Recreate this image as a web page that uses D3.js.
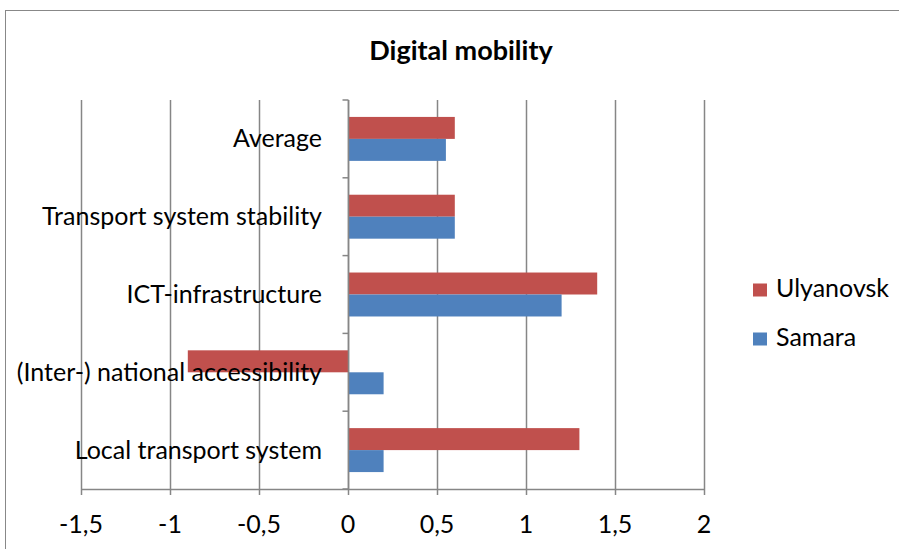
<!DOCTYPE html>
<html><head><meta charset="utf-8">
<script src="https://cdn.jsdelivr.net/npm/d3@7"></script>
<style>body{margin:0;background:#fff}svg{display:block}text{font-family:Lato,"Open Sans",sans-serif}</style>
</head><body>
<script>
const categories = ["Average","Transport system stability","ICT-infrastructure","(Inter-) national accessibility","Local transport system"];
const seriesNames = ["Ulyanovsk","Samara"];
const ulyanovsk = [0.6, 0.6, 1.4, -0.9, 1.3];
const samara = [0.55, 0.6, 1.2, 0.2, 0.2];
const xTicks = [-1.5,-1,-0.5,0,0.5,1,1.5,2];
const colors = ["#C0504D","#4F81BD"];
const title = "Digital mobility";

const W=899,H=549;
const svg=d3.select("body").append("svg").attr("width",W).attr("height",H);
svg.append("rect").attr("x",5.5).attr("y",10.5).attr("width",W).attr("height",H).attr("fill","#fff").attr("stroke","#888").attr("stroke-width",1);

const m={l:81,r:704,t:100,b:489};
const x=d3.scaleLinear().domain([-1.5,2]).range([m.l,m.r]);
const y=d3.scaleBand().domain(categories).range([m.t,m.b]).paddingInner(0.435).paddingOuter(0.2175);
const ys=d3.scaleBand().domain(seriesNames).range([0,y.bandwidth()]);

// gridlines
svg.append("g").selectAll("line").data(xTicks).join("line")
  .attr("x1",d=>Math.round(x(d))+0.5).attr("x2",d=>Math.round(x(d))+0.5)
  .attr("y1",m.t).attr("y2",m.b+6).attr("stroke","#868686").attr("stroke-width",1.5);
// bottom axis line
svg.append("line").attr("x1",m.l).attr("x2",m.r).attr("y1",m.b+0.5).attr("y2",m.b+0.5).attr("stroke","#868686").attr("stroke-width",1.5);
// tick labels
svg.append("g").selectAll("text").data(xTicks).join("text")
  .attr("x",d=>x(d)).attr("y",533).attr("text-anchor","middle").attr("font-size",25).attr("fill","#000")
  .text(d=>String(d).replace(".",","));

// bars
const data=categories.map((c,i)=>({c,vals:[ulyanovsk[i],samara[i]]}));
const g=svg.append("g");
data.forEach(d=>{
  d.vals.forEach((v,j)=>{
    g.append("rect").attr("x",x(Math.min(0,v))).attr("width",Math.abs(x(v)-x(0)))
     .attr("y",y(d.c)+ys(seriesNames[j])).attr("height",ys.bandwidth())
     .attr("fill",colors[j]);
  });
});

// y axis line with ticks
const x0=Math.round(x(0))+0.5;
svg.append("line").attr("x1",x0).attr("x2",x0).attr("y1",m.t).attr("y2",m.b).attr("stroke","#868686").attr("stroke-width",1.5);
const step=(m.b-m.t)/categories.length;
svg.append("g").selectAll("line").data(d3.range(categories.length+1)).join("line")
  .attr("x1",x0-6).attr("x2",x0).attr("y1",i=>m.t+i*step).attr("y2",i=>m.t+i*step)
  .attr("stroke","#868686").attr("stroke-width",1.5);

// category labels
svg.append("g").selectAll("text").data(categories).join("text")
  .attr("x",322).attr("y",d=>y(d)+y.bandwidth()/2+8.5)
  .attr("text-anchor","end").attr("font-size",25).attr("fill","#000").text(d=>d);

// title
svg.append("text").attr("x",461).attr("y",60).attr("text-anchor","middle").attr("font-size",27).attr("font-weight","bold").attr("fill","#000").text(title);

// legend
const lg=svg.append("g");
seriesNames.forEach((s,i)=>{
  const yy=290+i*49;
  lg.append("rect").attr("x",753).attr("y",yy-6.5).attr("width",14).attr("height",13).attr("fill",colors[i]);
  lg.append("text").attr("x",776).attr("y",yy+7).attr("font-size",25).attr("fill","#000").text(s);
});
</script>
</body></html>
